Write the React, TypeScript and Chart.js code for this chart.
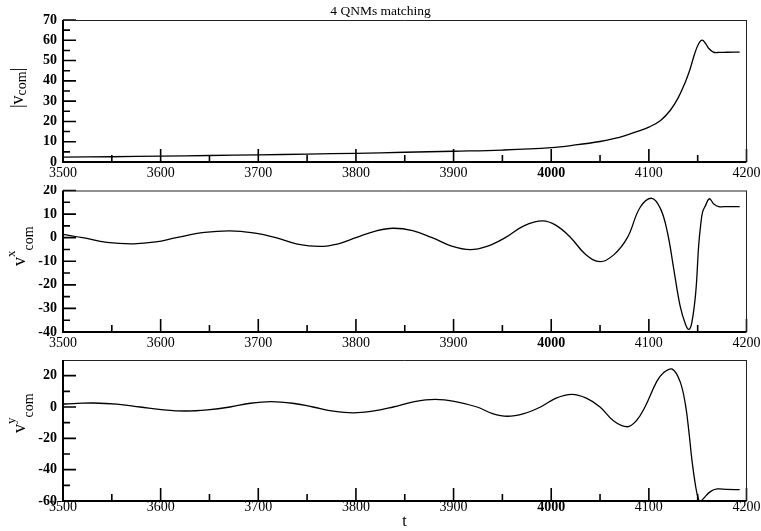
import React, { useEffect, useRef } from 'react';
import { Chart, registerables } from 'chart.js';

Chart.register(...registerables);

// ---- data ----
const X_MAJOR = [3500, 3600, 3700, 3800, 3900, 4000, 4100, 4200];
const X_MINOR = [3550, 3650, 3750, 3850, 3950, 4050, 4150];

// |v_com|
const T_MAG = [3500, 3550, 3600, 3650, 3700, 3750, 3800, 3850, 3900, 3950, 4000, 4025, 4050, 4065, 4078, 4090, 4100, 4112, 4122, 4130, 4137, 4142, 4147, 4151, 4154.5, 4158, 4161, 4166, 4172, 4180, 4193];
const V_MAG = [2.4, 2.6, 2.9, 3.2, 3.5, 3.9, 4.3, 4.8, 5.3, 5.9, 7.1, 8.4, 10.1, 11.6, 13.4, 15.3, 17.2, 20.5, 25.5, 31.6, 39, 45.5, 53.5, 58.3, 60.1, 58.5, 56.2, 54.2, 54, 54.1, 54.2];
const Y1_MAJOR = [0, 10, 20, 30, 40, 50, 60, 70];
const Y1_MINOR = [5, 15, 25, 35, 45, 55, 65];

// v^x_com
const T_VX = [3500, 3520, 3545, 3572, 3595, 3616, 3645, 3671, 3695, 3718, 3740, 3763, 3782, 3800, 3820, 3838, 3858, 3878, 3898, 3917, 3935, 3953, 3972, 3991, 4005, 4020, 4035, 4050, 4064, 4078, 4091, 4103, 4112, 4119, 4125.5, 4132, 4137.5, 4141, 4144, 4148, 4151, 4153, 4155, 4158, 4162, 4166.5, 4171.5, 4180, 4193];
const V_VX = [1.4, 0, -2.0, -2.6, -1.8, 0, 2.2, 2.9, 2.0, 0, -2.7, -3.7, -2.6, 0, 2.8, 4.0, 3.0, 0, -3.6, -5.1, -3.6, 0, 5.0, 7.1, 5.2, 0, -7.0, -10.2, -7.3, 0, 12.8, 16.7, 12.2, 2.3, -13.3, -28.9, -36.7, -38.9, -36, -23.3, -3.4, 5.1, 10.8, 13.6, 16.5, 14.3, 13.2, 13.2, 13.2];
const Y2_MAJOR = [-40, -30, -20, -10, 0, 10, 20];
const Y2_MINOR = [-35, -25, -15, -5, 5, 15];

// v^y_com
const T_VY = [3500, 3515, 3531, 3555, 3579, 3603, 3626, 3648, 3671, 3692, 3713, 3735, 3756, 3777, 3797, 3817, 3838, 3860, 3881, 3902, 3924, 3940, 3955, 3972, 3989, 4005, 4021, 4036, 4050, 4064, 4078, 4087, 4096, 4108, 4115, 4124, 4132, 4137.5, 4141, 4144.3, 4147.7, 4150.5, 4152.8, 4156, 4163, 4170, 4180, 4193];
const V_VY = [1.9, 2.3, 2.55, 1.8, 0, -1.8, -2.55, -1.8, 0, 2.4, 3.4, 2.4, 0, -2.7, -3.8, -2.7, 0, 3.5, 4.9, 3.5, 0, -4.2, -5.9, -4.2, 0, 5.7, 8.1, 5.7, 0, -8.9, -12.6, -8.9, 0, 16.2, 21.9, 24.2, 16.2, 1.3, -15.7, -34.9, -49.8, -58.3, -60.4, -58.3, -54, -52.3, -52.6, -52.8];
const Y3_MAJOR = [-60, -40, -20, 0, 20];
const Y3_MINOR = [-50, -30, -10, 10];

const TITLE = '4 QNMs matching';
const X_TITLE = 't';

const SERIF = "'Liberation Serif', 'Times New Roman', Times, serif";
const W = 761;
const AREA_LEFT = 63;
const AREA_RIGHT = 746.5;

type Part = { text: string; size: number; shift: number };
type Caption = { parts: Part[]; baseX: number; startY: number };
type Extra = { text: string; size: number; x: number; y: number };

type PanelProps = {
  top: number;
  height: number;
  areaTop: number;
  areaBottom: number;
  t: number[];
  v: number[];
  yMin: number;
  yMax: number;
  yMajor: number[];
  yMinor: number[];
  xPad: number;
  caption: Caption;
  extras: Extra[];
};

function Panel(p: PanelProps) {
  const ref = useRef<HTMLCanvasElement | null>(null);

  useEffect(() => {
    const canvas = ref.current;
    if (!canvas) return;

    const decor = {
      id: 'panelDecor',
      afterDraw(chart: any) {
        const ctx = chart.ctx as CanvasRenderingContext2D;
        const a = chart.chartArea;
        const xs = chart.scales.x;
        const ys = chart.scales.y;
        ctx.save();
        ctx.strokeStyle = '#000';
        ctx.lineWidth = 1.6;
        ctx.beginPath();
        // inward ticks on the bottom axis
        X_MAJOR.forEach((val) => {
          const px = xs.getPixelForValue(val);
          ctx.moveTo(px, a.bottom);
          ctx.lineTo(px, a.bottom - 13);
        });
        X_MINOR.forEach((val) => {
          const px = xs.getPixelForValue(val);
          ctx.moveTo(px, a.bottom);
          ctx.lineTo(px, a.bottom - 7);
        });
        // inward ticks on the left axis
        p.yMajor.forEach((val) => {
          const py = ys.getPixelForValue(val);
          ctx.moveTo(a.left, py);
          ctx.lineTo(a.left + 13, py);
        });
        p.yMinor.forEach((val) => {
          const py = ys.getPixelForValue(val);
          ctx.moveTo(a.left, py);
          ctx.lineTo(a.left + 7, py);
        });
        ctx.stroke();

        // frame: thin top/right, heavier left/bottom
        ctx.lineWidth = 1;
        ctx.strokeStyle = '#222';
        ctx.beginPath();
        ctx.moveTo(a.left, a.top + 0.5);
        ctx.lineTo(a.right, a.top + 0.5);
        ctx.moveTo(a.right, a.top);
        ctx.lineTo(a.right, a.bottom);
        ctx.stroke();
        ctx.lineWidth = 2;
        ctx.strokeStyle = '#000';
        ctx.beginPath();
        ctx.moveTo(a.left, a.top);
        ctx.lineTo(a.left, a.bottom + 1);
        ctx.moveTo(a.left - 1, a.bottom);
        ctx.lineTo(a.right, a.bottom);
        ctx.stroke();

        // rotated axis caption with sub/superscripts
        const c = p.caption;
        ctx.fillStyle = '#000';
        ctx.textBaseline = 'alphabetic';
        ctx.textAlign = 'left';
        ctx.translate(c.baseX, c.startY - p.top);
        ctx.rotate(-Math.PI / 2);
        let x = 0;
        c.parts.forEach((part) => {
          ctx.font = `${part.size}px ${SERIF}`;
          ctx.fillText(part.text, x, part.shift);
          x += ctx.measureText(part.text).width;
        });
        ctx.restore();

        // plain text items (title, x-axis name)
        ctx.save();
        ctx.fillStyle = '#000';
        ctx.textAlign = 'center';
        ctx.textBaseline = 'alphabetic';
        p.extras.forEach((e) => {
          ctx.font = `${e.size}px ${SERIF}`;
          ctx.fillText(e.text, e.x, e.y - p.top);
        });
        ctx.restore();
      },
    };

    const chart = new Chart(canvas, {
      type: 'line',
      data: {
        datasets: [
          {
            data: p.t.map((x, i) => ({ x, y: p.v[i] })),
            borderColor: '#000',
            borderWidth: 1.3,
            pointRadius: 0,
            fill: false,
            tension: 0.4,
          },
        ],
      },
      options: {
        animation: false,
        responsive: false,
        maintainAspectRatio: false,
        events: [],
        layout: { padding: { top: p.areaTop - p.top, right: W - AREA_RIGHT, left: 0, bottom: 0 } },
        plugins: {
          legend: { display: false },
          tooltip: { enabled: false },
          title: { display: false },
        },
        scales: {
          x: {
            type: 'linear',
            min: 3500,
            max: 4200,
            grid: { display: false, drawTicks: false },
            border: { display: false },
            afterBuildTicks: (s: any) => {
              s.ticks = X_MAJOR.map((value) => ({ value }));
            },
            afterFit: (s: any) => {
              s.height = p.top + p.height - p.areaBottom;
              s.paddingLeft = 0;
              s.paddingRight = 0;
            },
            ticks: {
              padding: p.xPad,
              color: '#000',
              autoSkip: false,
              maxRotation: 0,
              callback: (val: any) => String(val),
              font: (ctx: any) => ({
                family: SERIF,
                size: 14,
                weight: ctx.tick && ctx.tick.value === 4000 ? 'bold' : 'normal',
              }),
            },
          },
          y: {
            type: 'linear',
            min: p.yMin,
            max: p.yMax,
            grid: { display: false, drawTicks: false },
            border: { display: false },
            afterBuildTicks: (s: any) => {
              s.ticks = p.yMajor.map((value) => ({ value }));
            },
            afterFit: (s: any) => {
              s.width = AREA_LEFT;
              s.paddingTop = 0;
              s.paddingBottom = 0;
            },
            ticks: {
              padding: 6,
              color: '#000',
              autoSkip: false,
              callback: (val: any) => String(val),
              font: { family: SERIF, size: 14, weight: 'bold' },
            },
          },
        },
      },
      plugins: [decor],
    } as any);

    return () => chart.destroy();
  }, []);

  return (
    <canvas
      ref={ref}
      width={W}
      height={p.height}
      style={{ position: 'absolute', left: 0, top: p.top, display: 'block' }}
    />
  );
}

export default function App() {
  return (
    <div style={{ position: 'fixed', left: 0, top: 0, width: W, height: 531, background: '#fff', overflow: 'hidden' }}>
      <Panel
        top={0}
        height={185}
        areaTop={20}
        areaBottom={162}
        t={T_MAG}
        v={V_MAG}
        yMin={0}
        yMax={70}
        yMajor={Y1_MAJOR}
        yMinor={Y1_MINOR}
        xPad={3}
        caption={{
          baseX: 23,
          startY: 108,
          parts: [
            { text: '|', size: 18, shift: 0 },
            { text: 'v', size: 18, shift: 0 },
            { text: 'com', size: 14, shift: 3 },
            { text: '|', size: 18, shift: 0 },
          ],
        }}
        extras={[{ text: TITLE, size: 13.5, x: 380.5, y: 14.5 }]}
      />
      <Panel
        top={185}
        height={170}
        areaTop={190.5}
        areaBottom={332}
        t={T_VX}
        v={V_VX}
        yMin={-40}
        yMax={20}
        yMajor={Y2_MAJOR}
        yMinor={Y2_MINOR}
        xPad={3}
        caption={{
          baseX: 25,
          startY: 266,
          parts: [
            { text: 'v', size: 18, shift: 0 },
            { text: 'x', size: 13, shift: -10 },
            { text: 'com', size: 14, shift: 7.5 },
          ],
        }}
        extras={[]}
      />
      <Panel
        top={355}
        height={176}
        areaTop={360}
        areaBottom={501}
        t={T_VY}
        v={V_VY}
        yMin={-60}
        yMax={30}
        yMajor={Y3_MAJOR}
        yMinor={Y3_MINOR}
        xPad={-2}
        caption={{
          baseX: 25,
          startY: 433,
          parts: [
            { text: 'v', size: 18, shift: 0 },
            { text: 'y', size: 13, shift: -10 },
            { text: 'com', size: 14, shift: 7.5 },
          ],
        }}
        extras={[{ text: X_TITLE, size: 16, x: 404.5, y: 526 }]}
      />
    </div>
  );
}
